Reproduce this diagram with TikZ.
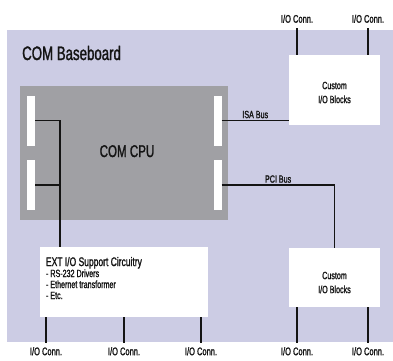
\documentclass[tikz,border=0pt]{standalone}
\usepackage{fontspec}
\setmainfont[FakeStretch=0.68, FakeBold=1.3]{Liberation Sans}
\usepackage{xcolor}
\usetikzlibrary{calc, positioning}

\definecolor{boardcol}{RGB}{204,204,228}
\definecolor{cpucol}{RGB}{160,160,164}
\definecolor{inkcol}{RGB}{20,20,20}

\tikzset{
	box/.style={rectangle, draw=none, fill=white, inner sep=0pt},
	slot/.style={box, minimum width=8pt, minimum height=50pt},
	wire/.style={draw=inkcol, line width=1.5pt},
	io/.style={font=\fontsize{11}{12}\selectfont, text=inkcol, inner sep=1pt},
	buslbl/.style={font=\fontsize{10.5}{12}\selectfont, text=inkcol, inner sep=1.5pt},
	blocktxt/.style={font=\fontsize{10.5}{14}\selectfont, text=inkcol, align=center, inner sep=0pt},
}

\begin{document}
\begin{tikzpicture}[x=1pt, y=-1pt]
	\useasboundingbox (0,0) rectangle (393,360);
	
	% board and cpu
	\node[box, fill=boardcol, minimum width=386pt, minimum height=312pt] (board) at (200,186) {};
	\node[anchor=base west, font=\fontsize{19.5}{20}\selectfont, text=inkcol, inner sep=0pt] (boardlbl) at (22,60) {COM Baseboard};
	
	\node[box, fill=cpucol, minimum width=208pt, minimum height=134pt] (cpu) at (124,153) {};
	\node[anchor=base, font=\fontsize{17}{18}\selectfont, text=inkcol, inner sep=0pt] (cpulbl) at (127,157) {COM CPU};
	
	\node[slot] (slotLa) at (31,120.5) {};
	\node[slot] (slotLb) at (31,185) {};
	\node[slot] (slotRa) at (217.5,120.5) {};
	\node[slot] (slotRb) at (217.5,185) {};
	
	% blocks
	\node[box, minimum width=168pt, minimum height=70pt] (ext) at (124,282) {};
	\node[anchor=north west, align=left, inner sep=0pt, text=inkcol, font=\fontsize{10.5}{11}\selectfont] (exttxt) at ([xshift=6pt, yshift=-10pt]ext.north west)
		{{\fontsize{12.5}{11}\selectfont EXT I/O Support Circuitry}\\- RS-232 Drivers\\- Ethernet transformer\\- Etc.};
	
	\node[box, minimum width=91pt, minimum height=70pt] (custA) at (334.5,90) {};
	\node[blocktxt] at ([yshift=-2.5pt]custA.center) {Custom\\I/O Blocks};
	
	\node[box, minimum width=91pt, minimum height=59pt] (custB) at (334.5,277.5) {};
	\node[blocktxt] at ([yshift=-5pt]custB.center) {Custom\\I/O Blocks};
	
	% buses
	\coordinate (jt) at (60,120.5);
	\draw[wire] (slotLa.east) -- (jt) -- (jt |- ext.north);
	\draw[wire] (slotLb.east) -- (slotLb.east -| jt);
	
	\draw[wire] (slotRa.east) -- node[buslbl, above] {ISA Bus} (slotRa.east -| custA.west);
	\draw[wire] (slotRb.east) -| node[buslbl, above, pos=0.25] {PCI Bus} (custB.north);
	
	% i/o connectors
	\coordinate (pA1) at (297,28);
	\coordinate (pA2) at (368,28);
	\foreach \p in {pA1, pA2} {
		\draw[wire] (\p) -- (\p |- custA.north);
		\node[io, above=4pt of \p] {I/O Conn.};
	}
	
	\coordinate (pB1) at (297,343);
	\coordinate (pB2) at (368,343);
	\foreach \p in {pB1, pB2} {
		\draw[wire] (\p |- custB.south) -- (\p);
		\node[io, below=3pt of \p] {I/O Conn.};
	}
	
	\coordinate (pE1) at (46,343);
	\coordinate (pE2) at (124,343);
	\coordinate (pE3) at (201,343);
	\foreach \p in {pE1, pE2, pE3} {
		\draw[wire] (\p |- ext.south) -- (\p);
		\node[io, below=3pt of \p] {I/O Conn.};
	}
\end{tikzpicture}
\end{document}
